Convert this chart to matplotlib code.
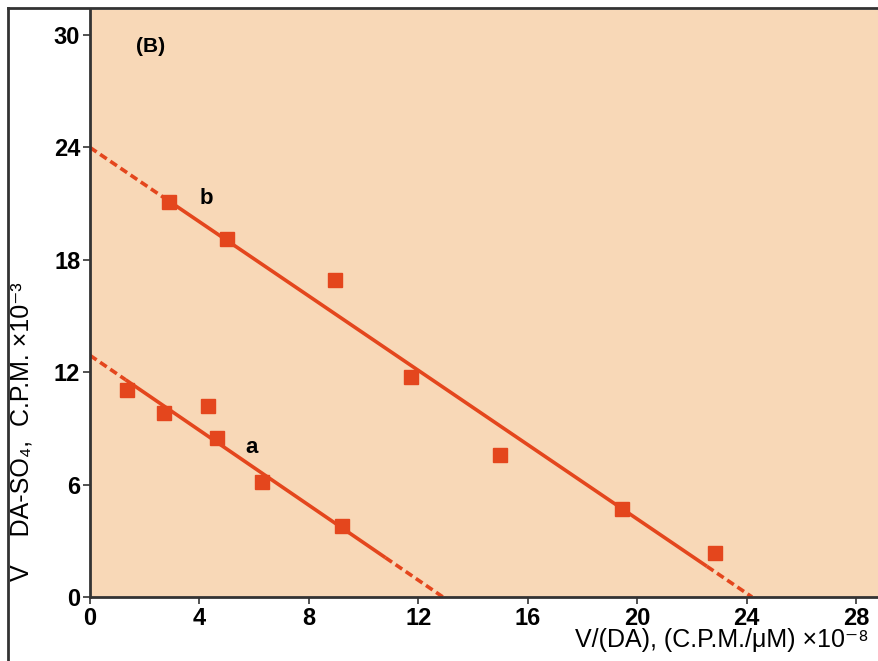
import matplotlib.pyplot as plt
import numpy as np

plt.rcParams["font.family"] = ["Liberation Sans", "DejaVu Sans"]

# Scatchard-type data
b_x = [2.9, 5.0, 8.95, 11.75, 15.0, 19.45, 22.85]
b_y = [21.1, 19.1, 16.9, 11.75, 7.6, 4.7, 2.35]
a_x = [1.35, 2.7, 4.3, 4.65, 6.3, 9.2]
a_y = [11.05, 9.8, 10.2, 8.5, 6.15, 3.8]

# fitted lines: intercepts on y and x axes, and solid range
b_fit = {"y0": 24.0, "x0": 24.2, "solid": (2.9, 22.55)}
a_fit = {"y0": 12.9, "x0": 12.9, "solid": (1.3, 10.8)}

x_ticks = [0, 4, 8, 12, 16, 20, 24, 28]
y_ticks = [0, 6, 12, 18, 24, 30]

red = "#e4461d"
bg = "#f8d8b7"

fig = plt.figure(figsize=(8.79, 6.61), dpi=100)
ax = fig.add_axes([90 / 879, 64 / 661, 789 / 879, 587 / 661])
ax.set_facecolor(bg)


def draw_fit(fit):
    y0, x0 = fit["y0"], fit["x0"]
    s0, s1 = fit["solid"]
    line = lambda x: y0 - y0 / x0 * np.asarray(x)
    ax.plot([0, s0], line([0, s0]), color=red, lw=2.6, ls=(0, (2.2, 1.2)))
    ax.plot([s0, s1], line([s0, s1]), color=red, lw=2.6, solid_capstyle="butt")
    ax.plot([s1, x0], line([s1, x0]), color=red, lw=2.6, ls=(0, (2.2, 1.2)))


draw_fit(b_fit)
draw_fit(a_fit)
ax.plot(b_x, b_y, "s", color=red, ms=9.5, zorder=5)
ax.plot(a_x, a_y, "s", color=red, ms=9.5, zorder=5)

ax.text(2.2, 29.4, "(B)", fontsize=15, fontweight="bold", ha="center", va="center")
ax.text(4.25, 21.3, "b", fontsize=16, fontweight="bold", ha="center", va="center")
ax.text(5.9, 8.0, "a", fontsize=16, fontweight="bold", ha="center", va="center")

ax.set_xlim(0, 28.84)
ax.set_ylim(0, 31.34)
ax.set_xticks(x_ticks)
ax.set_yticks(y_ticks)
for side in ["top", "right"]:
    ax.spines[side].set_visible(False)
for side in ["left", "bottom"]:
    ax.spines[side].set_color("#333333")
    ax.spines[side].set_linewidth(2)
ax.tick_params(direction="out", length=5, width=1.2, color="#333333",
               labelsize=17, pad=2)
for lbl in ax.get_xticklabels() + ax.get_yticklabels():
    lbl.set_fontweight("bold")

fig.text(22 / 879, 1 - 432 / 661, "V    DA-SO\u2084,  C.P.M. \u00d710\u207b\u00b3",
         rotation=90, ha="center", va="center", fontsize=18)
fig.text(869 / 879, 1 - 640 / 661, "V/(DA), (C.P.M./\u03bcM) \u00d710\u207b\u2078",
         ha="right", va="center", fontsize=18)

# outer frame of the figure panel
fig.add_artist(plt.Line2D([8 / 879, 1], [1 - 8 / 661] * 2, color="#333333", lw=2))
fig.add_artist(plt.Line2D([8 / 879] * 2, [0, 1 - 8 / 661], color="#333333", lw=2))

fig.savefig("out.png", dpi=100)
